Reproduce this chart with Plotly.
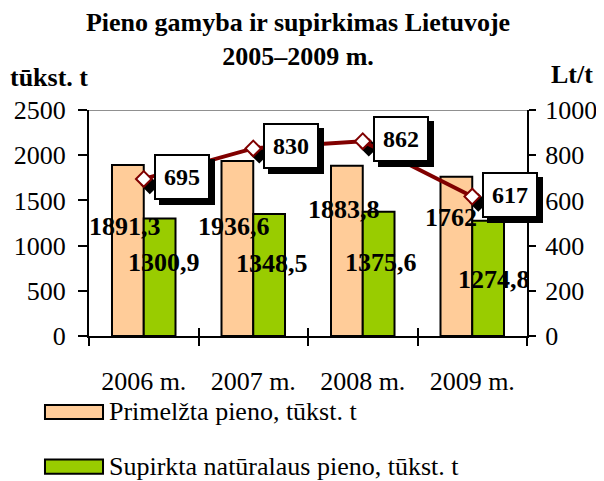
import plotly.graph_objects as go

# data
years = ["2006 m.", "2007 m.", "2008 m.", "2009 m."]
primelzta = [1891.3, 1936.6, 1883.8, 1762.0]
supirkta = [1300.9, 1348.5, 1375.6, 1274.8]
kaina = [695, 830, 862, 617]
primelzta_txt = ["1891,3", "1936,6", "1883,8", "1762"]
supirkta_txt = ["1300,9", "1348,5", "1375,6", "1274,8"]
kaina_txt = ["695", "830", "862", "617"]

FONT = "Liberation Serif"
PEACH = "#FFCC99"
GREEN = "#99CC00"
MAROON = "#800000"

# pixel offsets of the hand-placed bar labels
prim_dx = [-19, -19, -19, -21]
prim_dy = [-61, -66, -44, -41]
sup_dx = [20, 19, 18, 22]
sup_dy = [-44, -49, -51, -59]

fig = go.Figure()

fig.add_trace(go.Bar(x=years, y=primelzta, name="Primelžta pieno, tūkst. t",
                     marker=dict(color=PEACH, line=dict(color="black", width=2))))
fig.add_trace(go.Bar(x=years, y=supirkta, name="Supirkta natūralaus pieno, tūkst. t",
                     marker=dict(color=GREEN, line=dict(color="black", width=2))))

# black marker shadow, drawn on slightly shifted axes
fig.add_trace(go.Scatter(x=years, y=kaina, xaxis="x2", yaxis="y2", mode="markers",
                         marker=dict(symbol="diamond", size=12, color="black",
                                     line=dict(width=2, color="black")),
                         hoverinfo="skip"))

fig.add_trace(go.Scatter(x=years, y=kaina, xaxis="x3", yaxis="y3", mode="lines+markers",
                         name="Lt/t",
                         line=dict(color=MAROON, width=4),
                         marker=dict(symbol="diamond", size=12, color="white",
                                     line=dict(width=2, color=MAROON))))

# bar value labels
for i, yr in enumerate(years):
    fig.add_annotation(x=yr, y=primelzta[i], xref="x", yref="y", text="<b>%s</b>" % primelzta_txt[i],
                       showarrow=False, xshift=prim_dx[i], yshift=prim_dy[i],
                       xanchor="center", yanchor="middle",
                       font=dict(family=FONT, size=26, color="black"))
    fig.add_annotation(x=yr, y=supirkta[i], xref="x", yref="y", text="<b>%s</b>" % supirkta_txt[i],
                       showarrow=False, xshift=sup_dx[i], yshift=sup_dy[i],
                       xanchor="center", yanchor="middle",
                       font=dict(family=FONT, size=26, color="black"))

# boxed price labels with a shadow
for i, yr in enumerate(years):
    for dx, dy, bg in [(43, -3, "black"), (38, 2, "white")]:
        fig.add_annotation(x=yr, y=kaina[i], xref="x3", yref="y3", text="<b>%s</b>" % kaina_txt[i],
                           showarrow=False, xshift=dx, yshift=dy,
                           xanchor="center", yanchor="middle",
                           bgcolor=bg, bordercolor="black", borderwidth=2, borderpad=8,
                           font=dict(family=FONT, size=24, color="black"))

# axis unit captions
fig.add_annotation(x=-0.0913, y=1.1416, xref="paper", yref="paper", text="<b>tūkst. t</b>",
                   xanchor="center", yanchor="middle", showarrow=False,
                   font=dict(family=FONT, size=26, color="black"))
fig.add_annotation(x=1.103, y=1.155, xref="paper", yref="paper", text="<b>Lt/t</b>",
                   xanchor="center", yanchor="middle", showarrow=False,
                   font=dict(family=FONT, size=26, color="black"))

# legend drawn by hand (wide swatches like the original)
legend_items = [("Primelžta pieno, tūkst. t", PEACH, -0.336),
                ("Supirkta natūralaus pieno, tūkst. t", GREEN, -0.578)]
for label, col, ly in legend_items:
    fig.add_shape(type="rect", xref="paper", yref="paper",
                  x0=-0.1005, x1=0.032, y0=ly - 0.031, y1=ly + 0.031,
                  fillcolor=col, line=dict(color="black", width=2))
    fig.add_annotation(x=0.042, y=ly, xref="paper", yref="paper", text=label,
                       xanchor="left", yanchor="middle", showarrow=False,
                       font=dict(family=FONT, size=26, color="black"))

# grey top line
fig.add_shape(type="line", xref="paper", yref="y", x0=0, x1=1, y0=2500, y1=2500,
              line=dict(color="#909090", width=2))

tick_font = dict(family=FONT, size=26, color="black")
# the page body adds an 8px margin, so the figure is 8px smaller than the window
fig.update_layout(
    width=596, height=473,
    margin=dict(l=81, r=77, t=102, b=145),
    paper_bgcolor="white", plot_bgcolor="white",
    showlegend=False,
    barmode="group", bargap=0.42, bargroupgap=0,
    title=dict(text="<b>Pieno gamyba ir supirkimas Lietuvoje<br>2005–2009 m.</b>",
               x=0.4866, xref="container", xanchor="center",
               y=0.951, yref="container", yanchor="top",
               font=dict(family=FONT, size=26, color="black")),
    xaxis=dict(type="category", range=[-0.5, 3.5], tickson="boundaries",
               ticks="outside", ticklen=8, tickwidth=2, tickcolor="black",
               showline=True, linecolor="black", linewidth=2, automargin=False,
               showgrid=False, tickfont=tick_font, ticklabelstandoff=21),
    yaxis=dict(range=[0, 2500], dtick=500, ticks="outside", ticklen=9, tickwidth=2,
               tickcolor="black", showline=True, linecolor="black", linewidth=2,
               showgrid=False, zeroline=False, tickfont=tick_font, automargin=False,
               ticklabelstandoff=7),
    xaxis2=dict(type="category", overlaying="x", range=[-0.555, 3.445], visible=False),
    yaxis2=dict(overlaying="y", range=[26.5, 1026.5], visible=False),
    xaxis3=dict(type="category", overlaying="x", anchor="y3", range=[-0.5, 3.5],
                tickson="boundaries", ticks="inside", ticklen=8, tickwidth=2,
                tickcolor="black", showticklabels=False, showgrid=False, showline=False),
    yaxis3=dict(overlaying="y", side="right", anchor="x3", range=[0, 1000], dtick=200,
                ticks="outside", ticklen=7, tickwidth=2, tickcolor="black",
                showline=True, linecolor="black", linewidth=2, automargin=False,
                showgrid=False, zeroline=False, tickfont=tick_font, ticklabelstandoff=4),
    yaxis4=dict(overlaying="y", side="left", range=[0, 2500], dtick=500,
                ticks="inside", ticklen=6, tickwidth=2, tickcolor="black",
                showticklabels=False, showgrid=False, zeroline=False, showline=False),
    yaxis5=dict(overlaying="y", side="right", range=[0, 1000], dtick=200,
                ticks="inside", ticklen=6, tickwidth=2, tickcolor="black",
                showticklabels=False, showgrid=False, zeroline=False, showline=False),
)

fig.write_html("out.html")
